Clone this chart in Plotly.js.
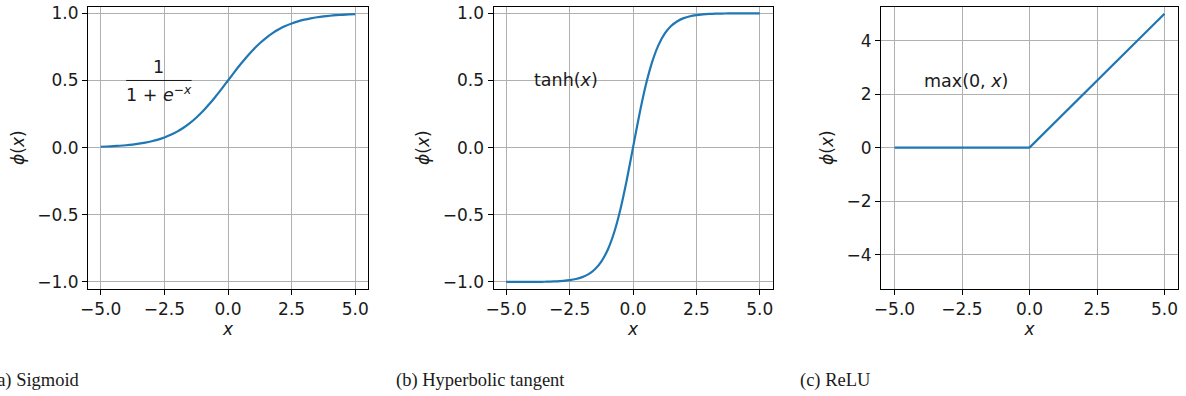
<!DOCTYPE html>
<html>
<head>
<meta charset="utf-8">
<script src="https://cdn.plot.ly/plotly-3.0.1.min.js"></script>
<style>html,body{margin:0;padding:0;background:#fff;}#chart{width:1186px;height:396px;}</style>
</head>
<body>
<div id="chart"></div>
<script>
// Sample points
const xs = [-5,-4.75,-4.5,-4.25,-4,-3.75,-3.5,-3.25,-3,-2.75,-2.5,-2.25,-2,-1.75,-1.5,-1.25,-1,-0.75,-0.5,-0.25,0,
            0.25,0.5,0.75,1,1.25,1.5,1.75,2,2.25,2.5,2.75,3,3.25,3.5,3.75,4,4.25,4.5,4.75,5];
const sigmoidY = [0.0067,0.0086,0.0110,0.0141,0.0180,0.0230,0.0293,0.0373,0.0474,0.0601,0.0759,0.0953,0.1192,0.1480,0.1824,0.2227,0.2689,0.3208,0.3775,0.4378,0.5,
                  0.5622,0.6225,0.6792,0.7311,0.7773,0.8176,0.8520,0.8808,0.9047,0.9241,0.9399,0.9526,0.9627,0.9707,0.9770,0.9820,0.9859,0.9890,0.9914,0.9933];
const tanhY = [-0.9999,-0.9999,-0.9998,-0.9996,-0.9993,-0.9989,-0.9982,-0.9970,-0.9951,-0.9918,-0.9866,-0.9780,-0.9640,-0.9414,-0.9051,-0.8483,-0.7616,-0.6351,-0.4621,-0.2449,0,
               0.2449,0.4621,0.6351,0.7616,0.8483,0.9051,0.9414,0.9640,0.9780,0.9866,0.9918,0.9951,0.9970,0.9982,0.9989,0.9993,0.9996,0.9998,0.9999,0.9999];
const reluX = [-5, 0, 5];
const reluY = [0, 0, 5];

const xTicks = [-5, -2.5, 0, 2.5, 5];
const yTicksUnit = [-1, -0.5, 0, 0.5, 1];
const yTicksRelu = [-4, -2, 0, 2, 4];
const captions = ["(a) Sigmoid", "(b) Hyperbolic tangent", "(c) ReLU"];
const formulaLabels = ["tanh(<i>x</i>)", "max(0, <i>x</i>)"];

const W = 1186, H = 396;
const blue = '#1f77b4';
const ink = '#1a1a1a';
const tickFont = {family: 'DejaVu Sans', size: 17, color: ink};
const titleFont = {family: 'DejaVu Sans', size: 17, color: ink};

function px(a, b) { return [a / W, b / W]; }
const yDom = [1 - 288.7 / H, 1 - 6.6 / H];

function xAxis(dom, anchor) {
  return {
    domain: px(dom[0], dom[1]), anchor: anchor, range: [-5.5, 5.5],
    tickvals: xTicks, tickformat: '.1f', ticks: 'outside', ticklen: 5, tickwidth: 1, tickcolor: '#000',
    showline: true, mirror: true, linecolor: '#000', linewidth: 1,
    showgrid: true, gridcolor: '#b0b0b0', gridwidth: 1, zeroline: false,
    tickfont: tickFont,
    title: {text: '<i>x</i>', font: titleFont, standoff: 3}
  };
}
function yAxis(range, ticks, fmt, anchor) {
  return {
    domain: yDom, anchor: anchor, range: range,
    tickvals: ticks, tickformat: fmt, ticks: 'outside', ticklen: 5, tickwidth: 1, tickcolor: '#000',
    showline: true, mirror: true, linecolor: '#000', linewidth: 1,
    showgrid: true, gridcolor: '#b0b0b0', gridwidth: 1, zeroline: false,
    tickfont: tickFont,
    title: {text: '<i>ϕ</i>(<i>x</i>)', font: titleFont, standoff: 8}
  };
}

const lineStyle = {color: blue, width: 2.2};
const data = [
  {x: xs, y: sigmoidY, type: 'scatter', mode: 'lines', line: Object.assign({shape: 'spline', smoothing: 0.6}, lineStyle), xaxis: 'x', yaxis: 'y', hoverinfo: 'skip'},
  {x: xs, y: tanhY, type: 'scatter', mode: 'lines', line: Object.assign({shape: 'spline', smoothing: 0.6}, lineStyle), xaxis: 'x2', yaxis: 'y2', hoverinfo: 'skip'},
  {x: reluX, y: reluY, type: 'scatter', mode: 'lines', line: lineStyle, xaxis: 'x3', yaxis: 'y3', hoverinfo: 'skip'}
];

const annFont = {family: 'DejaVu Sans', size: 17.5, color: ink};
const capFont = {family: 'Liberation Serif', size: 18.5, color: ink};
const capY = 1 - 380 / H;
const annotations = [
  {xref: 'x', yref: 'y', x: -2.72, y: 0.5, yshift: 1, text: '1', showarrow: false, xanchor: 'center', yanchor: 'bottom', font: annFont},
  {xref: 'x', yref: 'y', x: -2.72, y: 0.5, yshift: -1, text: '1 + <i>e</i><sup>−<i>x</i></sup>', showarrow: false, xanchor: 'center', yanchor: 'top', font: annFont},
  {xref: 'x2', yref: 'y2', x: -4, y: 0.5, text: formulaLabels[0], showarrow: false, xanchor: 'left', yanchor: 'middle', font: annFont},
  {xref: 'x3', yref: 'y3', x: -4, y: 2.5, text: formulaLabels[1], showarrow: false, xanchor: 'left', yanchor: 'middle', font: annFont},
  {xref: 'paper', yref: 'paper', x: -11 / W, y: capY, text: captions[0], showarrow: false, xanchor: 'left', yanchor: 'middle', font: capFont},
  {xref: 'paper', yref: 'paper', x: 394 / W, y: capY, text: captions[1], showarrow: false, xanchor: 'left', yanchor: 'middle', font: capFont},
  {xref: 'paper', yref: 'paper', x: 798 / W, y: capY, text: captions[2], showarrow: false, xanchor: 'left', yanchor: 'middle', font: capFont}
];

const shapes = [
  {type: 'line', xref: 'x', yref: 'y', x0: -4, x1: -1.43, y0: 0.5, y1: 0.5, line: {color: ink, width: 1}}
];

const layout = {
  width: W, height: H,
  margin: {l: 0, r: 0, t: 0, b: 0},
  paper_bgcolor: '#fff', plot_bgcolor: '#fff',
  showlegend: false,
  xaxis: xAxis([88, 368], 'y'),
  yaxis: yAxis([-1.05, 1.05], yTicksUnit, '.1f', 'x'),
  xaxis2: xAxis([493.5, 772.5], 'y2'),
  yaxis2: yAxis([-1.05, 1.05], yTicksUnit, '.1f', 'x2'),
  xaxis3: xAxis([881, 1178], 'y3'),
  yaxis3: yAxis([-5.27, 5.27], yTicksRelu, 'd', 'x3'),
  annotations: annotations,
  shapes: shapes
};

Plotly.newPlot('chart', data, layout, {staticPlot: true, displayModeBar: false});
</script>
</body>
</html>
